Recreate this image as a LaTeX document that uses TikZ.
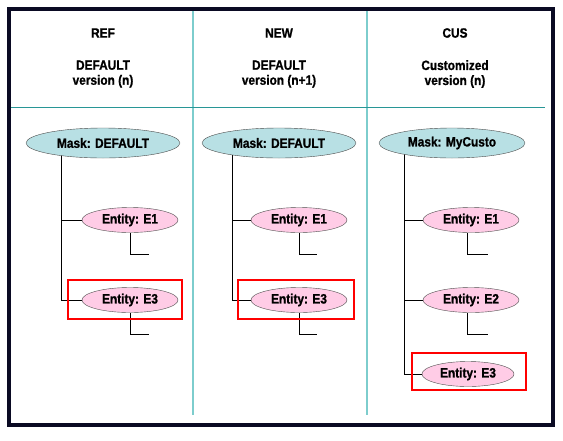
\documentclass[tikz,border=0pt]{standalone}
\usepackage{fontspec}
\setmainfont{Liberation Sans}
\newfontfamily\boldsans{Liberation Sans Bold}[FakeStretch=0.88,FakeBold=1]
\usetikzlibrary{shapes.geometric,backgrounds}
\definecolor{maskfill}{RGB}{184,224,228}
\definecolor{entfill}{RGB}{255,204,230}
\definecolor{framecol}{RGB}{10,10,35}
\definecolor{divcol}{RGB}{125,205,205}
\definecolor{rulecol}{RGB}{40,150,150}
\begin{document}
\begin{tikzpicture}[x=1pt,y=-1pt,
    every node/.style={font=\boldsans\fontsize{13.5}{15}\selectfont},
    hdr/.style={align=center},
    mask/.style={ellipse,draw=black!70,fill=maskfill,minimum width=154,minimum height=30,inner sep=0},
    entity/.style={ellipse,draw=black!70,fill=entfill,minimum width=96,minimum height=25,inner sep=0},
    link/.style={line width=0.8pt},
    hl/.style={draw=red,line width=1.6pt}]
    \useasboundingbox (0,0) rectangle (563,440);
    % frame and column rules
    \draw[framecol,line width=4pt] (9,9) rectangle (553,425);
    \draw[divcol,line width=1.2pt] (193,11) -- (193,415);
    \draw[divcol,line width=1.2pt] (367,11) -- (367,415);
    \draw[rulecol,line width=0.8pt] (11,107) -- (545,107);
    % headers
    \node[hdr] (tref) at (103,33) {REF};
    \node[hdr] (tnew) at (279,33) {NEW};
    \node[hdr] (tcus) at (455,33) {CUS};
    \node[hdr] (vref) at (103,74) {DEFAULT\\version (n)};
    \node[hdr] (vnew) at (279,74) {DEFAULT\\version (n+1)};
    \node[hdr] (vcus) at (455,74) {Customized\\version (n)};
    % REF column
    \node[mask] (ma) at (103,143) {Mask: DEFAULT};
    \node[entity] (e1a) at (130,220) {Entity: E1};
    \node[entity] (e3a) at (130,300) {Entity: E3};
    \coordinate (ta) at (61,143);
    \coordinate (s1a) at (149,254);
    \coordinate (s3a) at (149,334);
    % NEW column
    \node[mask] (mb) at (279,143) {Mask: DEFAULT};
    \node[entity] (e1b) at (299,220) {Entity: E1};
    \node[entity] (e3b) at (299,300) {Entity: E3};
    \coordinate (tb) at (232,143);
    \coordinate (s1b) at (317,254);
    \coordinate (s3b) at (317,334);
    % CUS column
    \node[mask,minimum width=146] (mc) at (452,143) {Mask: MyCusto};
    \node[entity] (e1c) at (471,220) {Entity: E1};
    \node[entity] (e2c) at (471,300) {Entity: E2};
    \node[entity,minimum width=92] (e3c) at (468,374) {Entity: E3};
    \coordinate (tc) at (404,143);
    \coordinate (s1c) at (488,254);
    \coordinate (s2c) at (488,334);
    \begin{scope}[on background layer]
      \draw[link] (ta) |- (e1a.west);
      \draw[link] (ta) |- (e3a.west);
      \draw[link] (e1a.south) |- (s1a);
      \draw[link] (e3a.south) |- (s3a);
      \draw[link] (tb) |- (e1b.west);
      \draw[link] (tb) |- (e3b.west);
      \draw[link] (e1b.south) |- (s1b);
      \draw[link] (e3b.south) |- (s3b);
      \draw[link] (tc) |- (e1c.west);
      \draw[link] (tc) |- (e2c.west);
      \draw[link] (tc) |- (e3c.west);
      \draw[link] ([xshift=-4pt]e1c.south) |- (s1c);
      \draw[link] ([xshift=-4pt]e2c.south) |- (s2c);
    \end{scope}
    % highlighted entities
    \draw[hl] (68,280) rectangle (182,319);
    \draw[hl] (238,280) rectangle (354,319);
    \draw[hl] (412,353) rectangle (526,390);
\end{tikzpicture}
\end{document}
